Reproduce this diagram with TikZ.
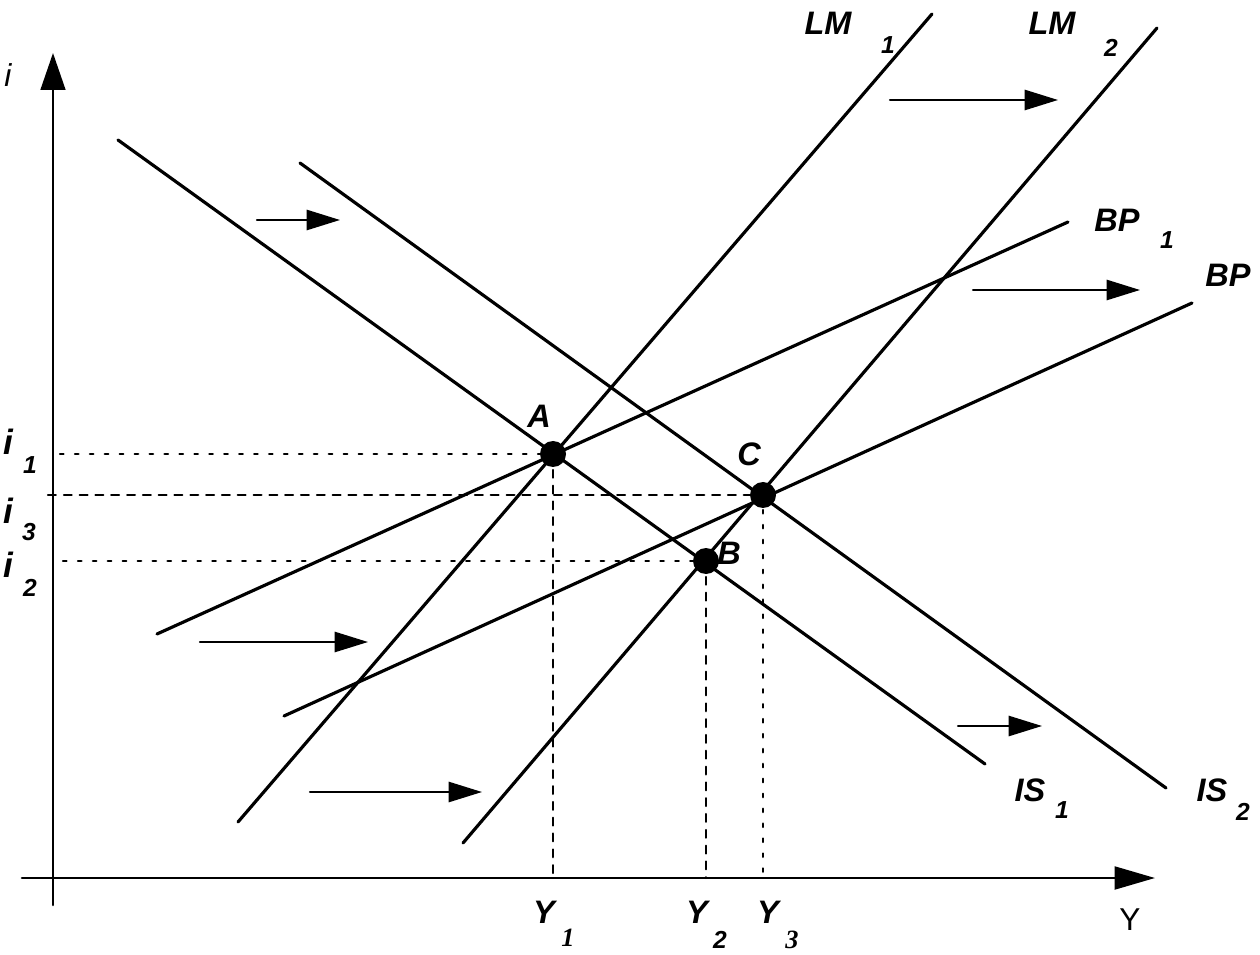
\documentclass[tikz,border=0pt]{standalone}
\usepackage{fontspec}
\setmainfont{Liberation Sans}
\newfontfamily\subserif{Liberation Serif}
\usetikzlibrary{arrows.meta}

\begin{document}
\begin{tikzpicture}[line cap=round,line join=round,>={Triangle[length=19pt,width=11.5pt]},x=0.02cm,y=0.02cm,
		curve/.style={line width=1.8pt},
		shiftarrow/.style={->,line width=1.2pt},
		dotline/.style={line width=1.3pt,dash pattern=on 2pt off 6.5pt},
		dashline/.style={line width=1.2pt,dash pattern=on 4.5pt off 4.5pt},
		lab/.style={inner sep=0pt,font=\fontsize{18.5}{20}\selectfont\bfseries\itshape},
		ilab/.style={inner sep=0pt,font=\fontsize{20}{22}\selectfont\bfseries\itshape},
		sublab/.style={inner sep=0pt,font=\fontsize{14}{16}\selectfont\bfseries\itshape}]
		\useasboundingbox (0,0) rectangle (1260,-955);
		\coordinate (ybot) at (53,-905);
		\coordinate (ytop) at (53,-53);
		\coordinate (xleft) at (22,-878);
		\coordinate (xright) at (1155,-878);
		\coordinate (A) at (553,-454);
		\coordinate (B) at (706,-561);
		\coordinate (C) at (763,-495);
		\draw [line width=1.5pt,-{Triangle[length=21pt,width=14pt]}] (ybot) -- (ytop);
		\draw [line width=1.5pt,-{Triangle[length=23pt,width=13pt]}] (xleft) -- (xright);
		\draw [curve] (118,-140) -- (985,-764);
		\draw [curve] (300,-163) -- (1166,-788);
		\draw [curve] (238,-822) -- (932,-14);
		\draw [curve] (463,-843) -- (1157,-28);
		\draw [curve] (157,-634) -- (1068,-222);
		\draw [curve] (284,-716) -- (1192,-303);
		\draw [dotline] (60,-454) -- (A);
		\draw [dashline] (48,-495) -- (C);
		\draw [dotline] (63,-561) -- (B);
		\draw [dashline] (A) -- (A |- xleft);
		\draw [dashline] (B) -- (B |- xleft);
		\draw [dotline] (C) -- (C |- xleft);
		\draw [shiftarrow] (890,-100) -- (1058,-100);
		\draw [shiftarrow] (257,-220) -- (340,-220);
		\draw [shiftarrow] (973,-290) -- (1140,-290);
		\draw [shiftarrow] (200,-642) -- (368,-642);
		\draw [shiftarrow] (958,-726) -- (1042,-726);
		\draw [shiftarrow] (310,-792) -- (482,-792);
		\fill (A) circle (13);
		\fill (B) circle (13);
		\fill (C) circle (13);
		\node [lab] (labA) at (539,-416) {A};
		\node [lab] (labB) at (729,-553) {B};
		\node [lab] (labC) at (749,-454) {C};
		\node [lab] (lmone) at (828,-23) {LM};
		\node [sublab] (lmonesub) at (888,-45) {1};
		\node [lab] (lmtwo) at (1052,-23) {LM};
		\node [sublab] (lmtwosub) at (1111,-48) {2};
		\node [lab] (bpone) at (1117,-220) {BP};
		\node [sublab] (bponesub) at (1167,-240) {1};
		\node [lab] (bptwo) at (1228,-275) {BP};
		\node [lab] (isone) at (1030,-790) {IS};
		\node [sublab] (isonesub) at (1062,-810) {1};
		\node [lab] (istwo) at (1212,-790) {IS};
		\node [sublab] (istwosub) at (1243,-812) {2};
		\node [ilab] (ione) at (8,-442) {i};
		\node [sublab] (ionesub) at (30,-465) {1};
		\node [ilab] (ithree) at (8,-511) {i};
		\node [sublab] (ithreesub) at (29,-532) {3};
		\node [ilab] (itwo) at (8,-565) {i};
		\node [sublab] (itwosub) at (30,-588) {2};
		\node [lab] (yone) at (544,-912) {Y};
		\node [sublab,font=\fontsize{15}{17}\selectfont\subserif\bfseries\itshape] (yonesub) at (568,-938) {1};
		\node [lab] (ytwo) at (697,-912) {Y};
		\node [sublab] (ytwosub) at (720,-940) {2};
		\node [lab] (ythree) at (768,-912) {Y};
		\node [sublab,font=\fontsize{15}{17}\selectfont\subserif\bfseries\itshape] (ythreesub) at (792,-940) {3};
		\node [inner sep=0pt,font=\fontsize{18}{20}\selectfont\itshape] (ilabel) at (8,-75) {i};
		\node [inner sep=0pt,font=\fontsize{18}{20}\selectfont] (ylabel) at (1130,-920) {Y};
\end{tikzpicture}
\end{document}
